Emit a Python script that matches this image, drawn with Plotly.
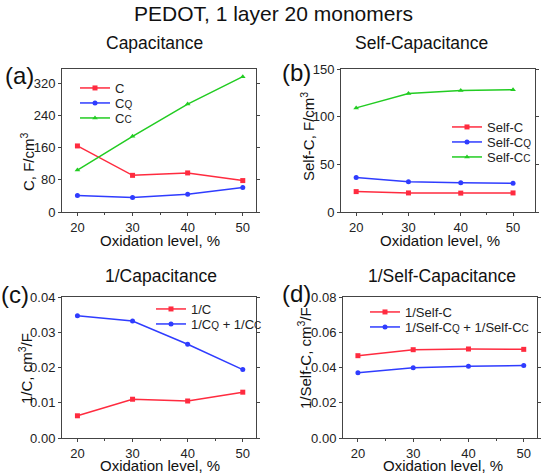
import plotly.graph_objects as go

x_levels = [20, 30, 40, 50]

# (a) Capacitance, F/cm3
cap_C = [164, 91, 97, 78]
cap_CQ = [41, 36, 44, 61]
cap_CC = [104, 188, 268, 336]

# (b) Self-capacitance, F/cm3
self_C = [21.4, 20.0, 19.8, 20.0]
self_CQ = [36.2, 31.6, 30.6, 30.2]
self_CC = [109.2, 124.3, 127.5, 128.2]

# (c) 1/Capacitance, cm3/F
inv_C = [0.0063, 0.0110, 0.0105, 0.0130]
inv_CQ_CC = [0.0347, 0.0332, 0.0266, 0.0194]

# (d) 1/Self-capacitance, cm3/F
inv_self_C = [0.0467, 0.0501, 0.0505, 0.0503]
inv_self_CQ_CC = [0.0370, 0.0398, 0.0407, 0.0411]

RED = "#ff2b3f"
BLUE = "#2f3cff"
GREEN = "#22cc22"
FONT = "Arial, Liberation Sans, sans-serif"
W, H = 543, 475

def sub(s):
    return '<span style="font-size:10px">' + s + '</span>'

def px_x(p):
    return p / W

def px_y(p):
    return 1 - p / H

fig = go.Figure()
legends = {}
leg_count = [0]

def add(x, y, name, color, symbol, xa, ya, lx, ly):
    leg_count[0] += 1
    key = "legend" if leg_count[0] == 1 else "legend%d" % leg_count[0]
    legends[key] = dict(x=px_x(lx), y=px_y(ly), xanchor="left", yanchor="middle",
                        bgcolor="rgba(0,0,0,0)", itemwidth=30, borderwidth=0,
                        font=dict(size=13, family=FONT, color="#222"))
    fig.add_trace(go.Scatter(
        x=x, y=y, name=name, mode="lines+markers",
        line=dict(color=color, width=1.5),
        marker=dict(color=color, symbol=symbol, size=5),
        xaxis=xa, yaxis=ya, legend=key))

add(x_levels, cap_C, "C", RED, "square", "x", "y", 75, 88)
add(x_levels, cap_CQ, "C" + sub("Q"), BLUE, "circle", "x", "y", 75, 103)
add(x_levels, cap_CC, "C" + sub("C"), GREEN, "triangle-up", "x", "y", 75, 118)

add(x_levels, self_C, "Self-C", RED, "square", "x2", "y2", 447, 127)
add(x_levels, self_CQ, "Self-C" + sub("Q"), BLUE, "circle", "x2", "y2", 447, 142)
add(x_levels, self_CC, "Self-C" + sub("C"), GREEN, "triangle-up", "x2", "y2", 447, 157)

add(x_levels, inv_C, "1/C", RED, "square", "x3", "y3", 151, 309)
add(x_levels, inv_CQ_CC, "1/C" + sub("Q") + " + 1/C" + sub("C"), BLUE, "circle", "x3", "y3", 151, 324)

add(x_levels, inv_self_C, "1/Self-C", RED, "square", "x4", "y4", 365, 312)
add(x_levels, inv_self_CQ_CC, "1/Self-C" + sub("Q") + " + 1/Self-C" + sub("C"), BLUE, "circle", "x4", "y4", 365, 327)

axis_common = dict(showline=True, linecolor="#444", linewidth=1, ticks="outside",
                   ticklen=3, tickcolor="#444", showgrid=False, zeroline=False,
                   automargin=False,
                   tickfont=dict(size=13, family=FONT, color="#222"))

def xax(dom, rng, anchor):
    return dict(axis_common, domain=dom, range=rng, tickvals=[20, 30, 40, 50],
                anchor=anchor, mirror=True,
                minor=dict(dtick=5, tick0=0, ticks="outside", ticklen=2, tickcolor="#444"))

def yax(dom, rng, anchor, tickvals, fmt):
    return dict(axis_common, domain=dom, range=rng, tickvals=tickvals,
                tickformat=fmt, anchor=anchor, mirror="ticks")

top_y = [px_y(212), px_y(69)]
bot_y = [px_y(438), px_y(297)]

fig.update_layout(
    width=W, height=H, margin=dict(l=0, r=0, t=0, b=0, autoexpand=False),
    paper_bgcolor="white", plot_bgcolor="white",
    font=dict(family=FONT, color="#222"),
    xaxis=xax([px_x(62), px_x(256)], [17.2, 52.4], "y"),
    yaxis=yax(top_y, [0, 355], "x", [0, 80, 160, 240, 320], "d"),
    xaxis2=xax([px_x(341), px_x(535)], [17.1, 54.2], "y2"),
    yaxis2=yax(top_y, [0, 150], "x2", [0, 50, 100, 150], "d"),
    xaxis3=xax([px_x(62), px_x(256)], [17.2, 52.4], "y3"),
    yaxis3=yax(bot_y, [0, 0.04], "x3", [0, 0.01, 0.02, 0.03, 0.04], ".2f"),
    xaxis4=xax([px_x(343), px_x(537)], [17.3, 52.4], "y4"),
    yaxis4=yax(bot_y, [0, 0.08], "x4", [0, 0.02, 0.04, 0.06, 0.08], ".2f"),
    showlegend=True,
    **legends,
)

annos = []
def text(x, y, t, size, angle=0):
    annos.append(dict(x=px_x(x), y=px_y(y), xref="paper", yref="paper", text=t,
                      showarrow=False, xanchor="center", yanchor="middle",
                      textangle=angle, font=dict(size=size, family=FONT, color="#111")))

text(273, 13, "PEDOT, 1 layer 20 monomers", 21)
text(154, 43, "Capacitance", 17.5)
text(421, 43, "Self-Capacitance", 17.5)
text(161, 276, "1/Capacitance", 17.5)
text(442, 276, "1/Self-Capacitance", 17.5)
text(19, 75, "(a)", 24)
text(296, 73, "(b)", 24)
text(15, 294, "(c)", 24)
text(296, 293, "(d)", 24)
text(27, 162, "C, F/cm<sup>3</sup>", 15, -90)
text(308, 137, "Self-C, F/cm<sup>3</sup>", 15, -90)
text(25, 369, "1/C, cm<sup>3</sup>/F", 15, -90)
text(304, 358, "1/Self-C, cm<sup>3</sup>/F", 15, -90)
for cx, cy in [(160, 240), (440, 240), (160, 465), (443, 465)]:
    text(cx, cy, "Oxidation level, %", 15)
fig.update_layout(annotations=annos)

fig.write_html("out.html", config={"displayModeBar": False},
               post_script="document.body.style.margin='0px';document.body.style.overflow='hidden';")
